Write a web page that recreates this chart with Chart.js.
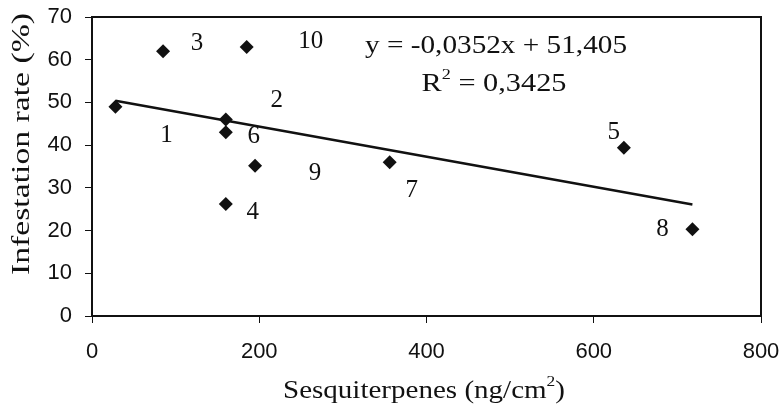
<!DOCTYPE html>
<html>
<head>
<meta charset="utf-8">
<script src="https://cdn.jsdelivr.net/npm/chart.js@4/dist/chart.umd.min.js"></script>
<style>
  html, body { margin: 0; padding: 0; background: #fff; }
  #wrap { width: 782px; height: 409px; position: relative; }
</style>
</head>
<body>
<div id="wrap"><canvas id="scatterChart"></canvas></div>
<script>
// ========== DATA ==========
const pointLabels = ['1', '2', '3', '4', '5', '6', '7', '8', '9', '10'];
const sesquiterpenes = [28, 160, 85, 160, 636, 160, 356, 718, 195, 185];
const infestation = [49, 46, 62, 26.2, 39.4, 43, 36, 20.3, 35.2, 63];
const trendX = [28, 718];
const trendY = [50.4, 26.1];
const xTicks = [0, 200, 400, 600, 800];
const yTicks = [0, 10, 20, 30, 40, 50, 60, 70];
const equationText = 'y = -0,0352x + 51,405';
const r2Text = '0,3425';

// pixel offsets of the number labels from their points
const labelOffsets = [[51, 29], [51, -19], [34, -8], [27, 8], [-10, -15], [28, 4], [22, 28], [-30, 0], [60, 8], [64, -5]];

const INK = '#111';
const SERIF = '"Liberation Serif", "Times New Roman", serif';
const SANS = '"Liberation Sans", Arial, sans-serif';

// draw a run of [text, size, dy] pieces centred on cx, stretched to width w
function drawStretched(ctx, pieces, cx, cy, w) {
  let natural = 0;
  pieces.forEach(p => { ctx.font = p[1] + 'px ' + SERIF; natural += ctx.measureText(p[0]).width; });
  const k = w / natural;
  ctx.save();
  ctx.translate(cx - w / 2, cy);
  ctx.scale(k, 1);
  ctx.textAlign = 'left';
  ctx.textBaseline = 'middle';
  let x = 0;
  pieces.forEach(p => {
    ctx.font = p[1] + 'px ' + SERIF;
    ctx.fillText(p[0], x, p[2] || 0);
    x += ctx.measureText(p[0]).width;
  });
  ctx.restore();
}

// ========== ANNOTATION PLUGIN ==========
const annotate = {
  id: 'annotate',
  afterDraw(chart) {
    const { ctx, chartArea: a, scales } = chart;
    ctx.save();
    // frame round the plot area
    ctx.strokeStyle = INK;
    ctx.lineWidth = 2;
    ctx.strokeRect(a.left, a.top, a.right - a.left, a.bottom - a.top);

    // point numbers
    ctx.fillStyle = INK;
    ctx.font = '25px ' + SERIF;
    ctx.textAlign = 'center';
    ctx.textBaseline = 'middle';
    pointLabels.forEach((lab, i) => {
      const px = scales.x.getPixelForValue(sesquiterpenes[i]);
      const py = scales.y.getPixelForValue(infestation[i]);
      ctx.fillText(lab, px + labelOffsets[i][0], py + labelOffsets[i][1]);
    });

    // regression equation
    drawStretched(ctx, [[equationText, 25]], 496, 46, 262);
    drawStretched(ctx, [['R', 25], ['2', 15, -9], [' = ' + r2Text, 25]], 494, 84, 145);

    // axis titles
    drawStretched(ctx, [['Sesquiterpenes (ng/cm', 25], ['2', 15, -9], [')', 25]], 424, 391, 282);
    ctx.translate(22, 144);
    ctx.rotate(-Math.PI / 2);
    drawStretched(ctx, [['Infestation rate (%)', 25]], 0, 0, 262);
    ctx.restore();
  }
};

// ========== CHART ==========
function initScatterChart() {
  const el = document.getElementById('scatterChart');
  new Chart(el.getContext('2d'), {
    type: 'scatter',
    data: {
      datasets: [
        {
          label: 'Samples',
          data: sesquiterpenes.map((x, i) => ({ x, y: infestation[i] })),
          pointStyle: 'rectRot',
          pointRadius: 7,
          backgroundColor: INK,
          borderColor: INK,
          borderWidth: 0
        },
        {
          label: 'Trend',
          type: 'line',
          data: trendX.map((x, i) => ({ x, y: trendY[i] })),
          borderColor: INK,
          borderWidth: 2.5,
          pointRadius: 0,
          fill: false
        }
      ]
    },
    options: {
      responsive: false,
      animation: false,
      devicePixelRatio: 1,
      layout: { padding: { top: 17, right: 21, left: 0, bottom: 0 } },
      plugins: { legend: { display: false }, tooltip: { enabled: false } },
      scales: {
        x: {
          type: 'linear',
          min: 0, max: 800,
          afterBuildTicks: s => { s.ticks = xTicks.map(v => ({ value: v })); },
          afterFit: s => { s.height = 93; s.paddingLeft = 0; s.paddingRight = 0; },
          border: { color: INK, width: 2 },
          grid: { drawOnChartArea: false, drawTicks: true, tickLength: 7, color: INK, lineWidth: 1 },
          ticks: { color: INK, padding: 16, font: { family: SANS, size: 22 }, maxRotation: 0 }
        },
        y: {
          type: 'linear',
          min: 0, max: 70,
          afterBuildTicks: s => { s.ticks = yTicks.map(v => ({ value: v })); },
          afterFit: s => { s.width = 92; s.paddingTop = 0; s.paddingBottom = 0; },
          border: { color: INK, width: 2 },
          grid: { drawOnChartArea: false, drawTicks: true, tickLength: 7, color: INK, lineWidth: 1 },
          ticks: { color: INK, padding: 13, font: { family: SANS, size: 22 } }
        }
      }
    },
    plugins: [annotate]
  });
}

document.addEventListener('DOMContentLoaded', () => {
  const c = document.getElementById('scatterChart');
  c.width = 782; c.height = 409;
  initScatterChart();
});
</script>
</body>
</html>
